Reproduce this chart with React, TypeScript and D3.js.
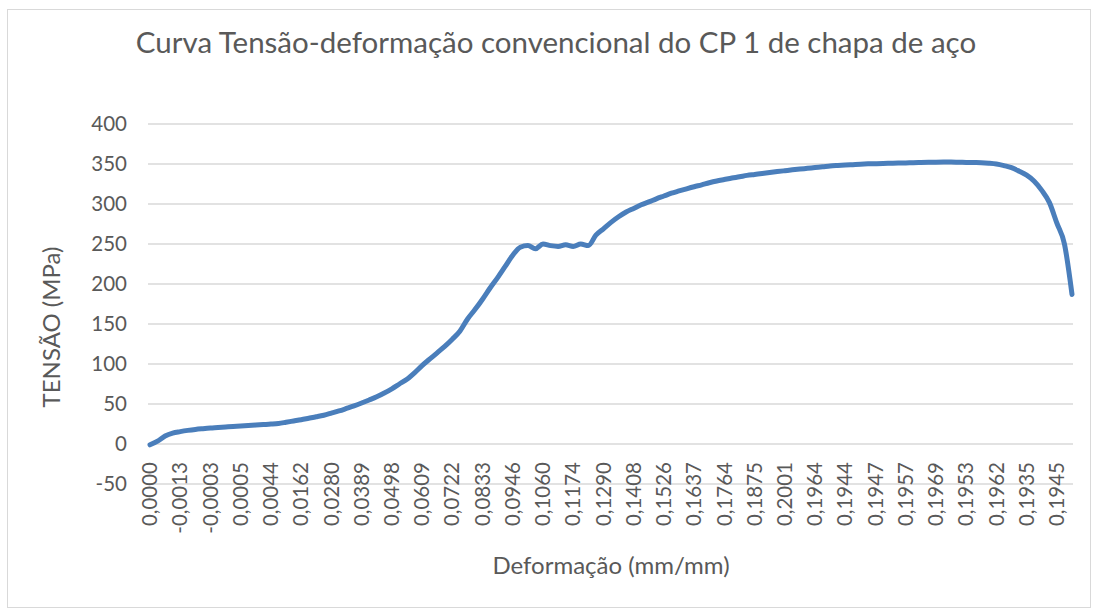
import React from "react";
import * as d3 from "d3";

const W = 1100;
const H = 610;

// category labels shown every 4th point on the category axis
const tickLabels = [
  "0,0000", "-0,0013", "-0,0003", "0,0005", "0,0044", "0,0162", "0,0280", "0,0389",
  "0,0498", "0,0609", "0,0722", "0,0833", "0,0946", "0,1060", "0,1174", "0,1290",
  "0,1408", "0,1526", "0,1637", "0,1764", "0,1875", "0,2001", "0,1964", "0,1944",
  "0,1947", "0,1957", "0,1969", "0,1953", "0,1962", "0,1935", "0,1945",
];
const labelEvery = 4;

// stress (MPa), one value per point
const stress = [
  -1, 3.5, 10, 13.7, 15.5, 17, 18.2, 19.1, 19.9, 20.5,
  21.2, 21.9, 22.5, 23.1, 23.7, 24.3, 24.9, 25.7, 27.2, 28.8,
  30.4, 32.2, 34, 36, 38.6, 41.3, 44.4, 47.6, 51.2, 55,
  59, 63.7, 69, 75, 81, 89, 98, 106, 114, 122,
  131, 141, 156, 168, 181, 195, 208, 222, 236, 246,
  248, 244, 250, 248, 247, 249, 247, 250, 248, 261,
  269, 277, 284, 290, 294.5, 299, 302.6, 306.5, 310, 313.5,
  316.3, 319, 321.6, 324, 326.6, 328.8, 330.6, 332.4, 334, 335.8,
  337, 338.2, 339.3, 340.5, 341.6, 342.7, 343.7, 344.6, 345.6, 346.5,
  347.5, 348.1, 348.6, 349.2, 349.8, 350.2, 350.4, 350.6, 350.9, 351.2,
  351.4, 351.7, 351.9, 352.1, 352.3, 352.4, 352.4, 352.2, 352, 351.8,
  351.6, 351, 350, 348, 345.4, 341, 336, 328.5, 317, 302,
  276, 250, 187,
];

const title = "Curva Tensão-deformação convencional do CP 1 de chapa de aço";
const xTitle = "Deformação (mm/mm)";
const yTitle = "TENSÃO (MPa)";

const font = "Lato, 'Open Sans', sans-serif";
const textColor = "#595959";

export default function App() {
  const idx = d3.range(stress.length);
  const x = d3.scalePoint<number>().domain(idx).range([150, 1072]);
  const y = d3.scaleLinear().domain([-50, 400]).range([484, 124]);
  const yTicks = y.ticks(10);

  const line = d3
    .line<number>()
    .x((d, i) => x(i) as number)
    .y((d) => y(d))
    .curve(d3.curveMonotoneX);

  const gridLeft = 148;
  const gridRight = 1073;

  return (
    <div style={{ position: "absolute", left: 0, top: 0 }}>
      <svg width={W} height={H} style={{ display: "block", background: "#fff" }}>
        <rect x={7.5} y={9.5} width={1083} height={598} fill="#fff" stroke="#d9d9d9" />
        <text
          x={556}
          y={53}
          textAnchor="middle"
          fontFamily={font}
          fontSize={29.5}
          fill={textColor}
        >
          {title}
        </text>

        {yTicks.map((t) => (
          <g key={t}>
            <line
              x1={gridLeft}
              x2={gridRight}
              y1={y(t)}
              y2={y(t)}
              stroke="#d9d9d9"
              strokeWidth={1.5}
            />
            <text
              x={127}
              y={y(t)}
              dy="0.35em"
              textAnchor="end"
              fontFamily={font}
              fontSize={20.5}
              fill={textColor}
            >
              {String(t)}
            </text>
          </g>
        ))}

        {tickLabels.map((lab, j) => {
          const px = x(j * labelEvery) as number;
          return (
            <text
              key={j}
              transform={`translate(${px},462) rotate(-90)`}
              dy="0.35em"
              textAnchor="end"
              fontFamily={font}
              fontSize={20.5}
              fill={textColor}
            >
              {lab}
            </text>
          );
        })}

        <path
          d={line(stress) || ""}
          fill="none"
          stroke="#4a7ebb"
          strokeWidth={5}
          strokeLinejoin="round"
          strokeLinecap="round"
        />

        <text
          transform="translate(52,327) rotate(-90)"
          dy="0.35em"
          textAnchor="middle"
          fontFamily={font}
          fontSize={24}
          fill={textColor}
        >
          {yTitle}
        </text>
        <text
          x={611}
          y={574}
          textAnchor="middle"
          fontFamily={font}
          fontSize={24}
          fill={textColor}
        >
          {xTitle}
        </text>
      </svg>
    </div>
  );
}
